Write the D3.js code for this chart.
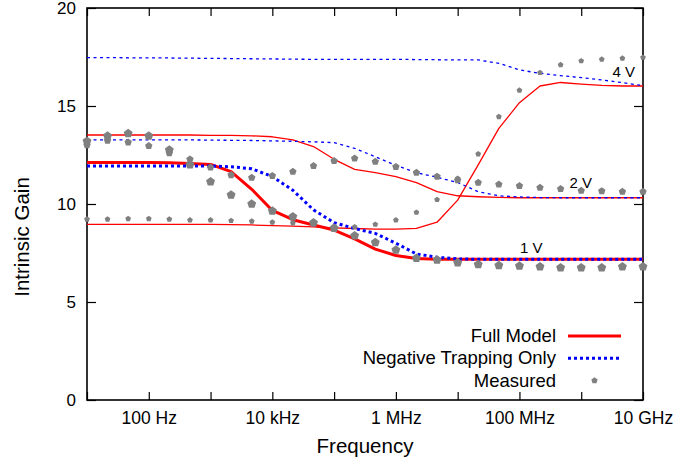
<!DOCTYPE html>
<html>
<head>
<meta charset="utf-8">
<script src="https://d3js.org/d3.v7.min.js"></script>
<style>
  body { margin: 0; background: #fff; }
  text { font-family: "Liberation Sans", Arial, Helvetica, sans-serif; fill: #000; }
</style>
</head>
<body>
<div id="chart"></div>
<script>
// frequencies (Hz), one third of a decade apart
var freqs = [10, 21.5, 46.4, 100, 215, 464, 1e3, 2.15e3, 4.64e3, 1e4, 2.15e4, 4.64e4,
  1e5, 2.15e5, 4.64e5, 1e6, 2.15e6, 4.64e6, 1e7, 2.15e7, 4.64e7, 1e8, 2.15e8, 4.64e8,
  1e9, 2.15e9, 4.64e9, 1e10];

// Full Model
var full1V = [12.12, 12.12, 12.12, 12.12, 12.1, 12.07, 12.02, 11.65, 10.75, 9.67, 9.2, 8.93,
  8.67, 8.22, 7.7, 7.37, 7.22, 7.18, 7.18, 7.18, 7.18, 7.18, 7.18, 7.18, 7.18, 7.18, 7.18, 7.18];
var full2V = [13.52, 13.52, 13.52, 13.52, 13.52, 13.52, 13.5, 13.5, 13.48, 13.43, 13.27, 12.93,
  12.28, 11.77, 11.6, 11.4, 11.09, 10.63, 10.42, 10.37, 10.34, 10.32, 10.32, 10.32, 10.32, 10.32, 10.32, 10.32];
var full4V = [8.96, 8.96, 8.96, 8.96, 8.96, 8.96, 8.96, 8.95, 8.93, 8.9, 8.87, 8.83,
  8.78, 8.75, 8.72, 8.72, 8.76, 9.07, 10.2, 12.0, 13.86, 15.17, 16.02, 16.2, 16.12, 16.05, 16.02, 16.02];

// Negative Trapping Only
var trap1V = [11.94, 11.94, 11.94, 11.94, 11.94, 11.94, 11.94, 11.9, 11.8, 11.4, 10.7, 9.7,
  9.05, 8.75, 8.5, 8.0, 7.45, 7.28, 7.2, 7.18, 7.18, 7.18, 7.18, 7.18, 7.18, 7.18, 7.18, 7.18];
var trap2V = [13.27, 13.27, 13.27, 13.27, 13.27, 13.27, 13.26, 13.25, 13.24, 13.22, 13.2, 13.17,
  13.13, 12.84, 12.41, 11.97, 11.6, 11.36, 11.1, 10.63, 10.42, 10.36, 10.33, 10.32, 10.32, 10.32, 10.32, 10.32];
var trap4V = [17.47, 17.47, 17.46, 17.46, 17.45, 17.44, 17.43, 17.42, 17.41, 17.4, 17.39, 17.38,
  17.38, 17.38, 17.38, 17.38, 17.37, 17.36, 17.35, 17.35, 17.18, 16.84, 16.67, 16.55, 16.45, 16.33, 16.19, 16.04];

// Measured
var meas1V = [13.2, 13.47, 13.6, 13.47, 12.76, 12.0, 11.14, 10.46, 10.0, 9.64, 9.35, 9.05,
  8.76, 8.38, 8.04, 7.65, 7.23, 7.14, 7.0, 6.92, 6.87, 6.84, 6.8, 6.75, 6.75, 6.75, 6.8, 6.8];
var meas2V = [13.0, 13.23, 13.15, 12.96, 12.6, 12.28, 11.87, 11.48, 11.34, 11.44, 11.65, 11.94,
  12.2, 12.33, 12.16, 11.9, 11.6, 11.4, 11.22, 11.09, 11.0, 10.92, 10.83, 10.77, 10.68, 10.66, 10.63, 10.63];
var meas4V = [9.22, 9.22, 9.25, 9.25, 9.22, 9.18, 9.18, 9.15, 9.12, 9.07, 9.03, 8.98,
  8.85, 8.83, 8.96, 9.18, 9.57, 10.22, 11.3, 12.55, 14.45, 15.8, 16.7, 17.1, 17.3, 17.38, 17.43, 17.48];

var xTicks = [10, 100, 1e3, 1e4, 1e5, 1e6, 1e7, 1e8, 1e9, 1e10];
var xTickLabels = {100: "100 Hz", 1e4: "10 kHz", 1e6: "1 MHz", 1e8: "100 MHz", 1e10: "10 GHz"};
var yTicks = [0, 5, 10, 15, 20];

const width = 676, height = 463;
const plotLeft = 87, plotRight = 643, plotTop = 8, plotBottom = 400;

var svg = d3.select("#chart").append("svg")
  .attr("width", width)
  .attr("height", height);

var x = d3.scaleLog().domain([10, 1e10]).range([plotLeft, plotRight]);
var y = d3.scaleLinear().domain([0, 20]).range([plotBottom, plotTop]);

/* pentagon marker, size = circumradius squared */
var pentagon = {
  draw: function(ctx, size) {
    var r = Math.sqrt(size);
    for (var i = 0; i < 5; i++) {
      var a = -Math.PI / 2 + i * 2 * Math.PI / 5;
      if (i) ctx.lineTo(r * Math.cos(a), r * Math.sin(a));
      else ctx.moveTo(r * Math.cos(a), r * Math.sin(a));
    }
    ctx.closePath();
  }
};

/* axes */
var xAxis = d3.axisBottom(x).tickValues(xTicks)
  .tickFormat(d => xTickLabels[d] || "")
  .tickSizeInner(-8).tickSizeOuter(0).tickPadding(12);
var yAxis = d3.axisLeft(y).tickValues(yTicks)
  .tickFormat(d3.format("d"))
  .tickSizeInner(-9).tickSizeOuter(0).tickPadding(11);

var gx = svg.append("g").attr("transform", `translate(0,${plotBottom})`).call(xAxis);
var gy = svg.append("g").attr("transform", `translate(${plotLeft},0)`).call(yAxis);
svg.append("g").attr("transform", `translate(0,${plotTop})`)
  .call(d3.axisTop(x).tickValues(xTicks).tickFormat("").tickSizeInner(-8).tickSizeOuter(0));
svg.append("g").attr("transform", `translate(${plotRight},0)`)
  .call(d3.axisRight(y).tickValues(yTicks).tickFormat("").tickSizeInner(-9).tickSizeOuter(0));

svg.selectAll(".domain").remove();
svg.selectAll(".tick line").attr("stroke", "#000").attr("stroke-width", 1.2);
gx.selectAll("text").style("font-size", "17.5px");
gy.selectAll("text").style("font-size", "17px").attr("dy", "0.34em");

svg.append("rect")
  .attr("x", plotLeft).attr("y", plotTop)
  .attr("width", plotRight - plotLeft).attr("height", plotBottom - plotTop)
  .attr("fill", "none").attr("stroke", "#000").attr("stroke-width", 1.6);

/* axis titles */
svg.append("text")
  .attr("x", (plotLeft + plotRight) / 2).attr("y", 453)
  .attr("text-anchor", "middle").style("font-size", "20.5px")
  .text("Frequency");
svg.append("text")
  .attr("transform", "translate(29,237) rotate(-90)")
  .attr("text-anchor", "middle").style("font-size", "20.5px")
  .text("Intrinsic Gain");

/* lines */
var line = d3.line()
  .x((d, i) => x(freqs[i]))
  .y(d => y(d));

svg.append("clipPath").attr("id", "plotclip")
  .append("rect").attr("x", plotLeft).attr("y", plotTop)
  .attr("width", plotRight - plotLeft).attr("height", plotBottom - plotTop);

var plot = svg.append("g").attr("clip-path", "url(#plotclip)");

var redThin = 1.3, redThick = 3;
[[full4V, redThin], [full2V, redThin], [full1V, redThick]].forEach(function(s) {
  plot.append("path")
    .attr("d", line(s[0]))
    .attr("fill", "none")
    .attr("stroke", "#ff0000")
    .attr("stroke-width", s[1])
    .attr("stroke-linejoin", "round");
});

[[trap4V, 1.3, "3,3.5"], [trap2V, 1.3, "3,3.5"], [trap1V, 3, "3,3"]].forEach(function(s) {
  plot.append("path")
    .attr("d", line(s[0]))
    .attr("fill", "none")
    .attr("stroke", "#0000ff")
    .attr("stroke-width", s[1])
    .attr("stroke-dasharray", s[2]);
});

/* measured points */
[[meas4V, 9], [meas2V, 15], [meas1V, 22]].forEach(function(s) {
  svg.append("g")
    .selectAll("path")
    .data(s[0]).enter()
    .append("path")
    .attr("d", d3.symbol().type(pentagon).size(s[1]))
    .attr("transform", (d, i) => `translate(${x(freqs[i])},${y(d)})`)
    .attr("fill", "#808080");
});

/* voltage labels */
var vLabels = [["4 V", 612.5, 77.3], ["2 V", 569.5, 188.3], ["1 V", 520, 253.3]];
svg.selectAll(".vlabel")
  .data(vLabels).enter()
  .append("text")
  .attr("class", "vlabel")
  .attr("x", d => d[1]).attr("y", d => d[2])
  .style("font-size", "15px")
  .text(d => d[0]);

/* legend */
var legend = svg.append("g");
var legY = [342, 364.3, 386.6];
var legNames = ["Full Model", "Negative Trapping Only", "Measured"];
legend.selectAll("text")
  .data(legNames).enter()
  .append("text")
  .attr("x", 556).attr("y", (d, i) => legY[i])
  .attr("text-anchor", "end")
  .style("font-size", "18.5px")
  .text(d => d);

legend.append("line")
  .attr("x1", 568).attr("x2", 621)
  .attr("y1", legY[0] - 6).attr("y2", legY[0] - 6)
  .attr("stroke", "#ff0000").attr("stroke-width", 3);
legend.append("line")
  .attr("x1", 568).attr("x2", 621)
  .attr("y1", legY[1] - 6).attr("y2", legY[1] - 6)
  .attr("stroke", "#0000ff").attr("stroke-width", 3)
  .attr("stroke-dasharray", "3,3");
legend.append("path")
  .attr("d", d3.symbol().type(pentagon).size(11))
  .attr("transform", `translate(594.5,${legY[2] - 6})`)
  .attr("fill", "#808080");
</script>
</body>
</html>
